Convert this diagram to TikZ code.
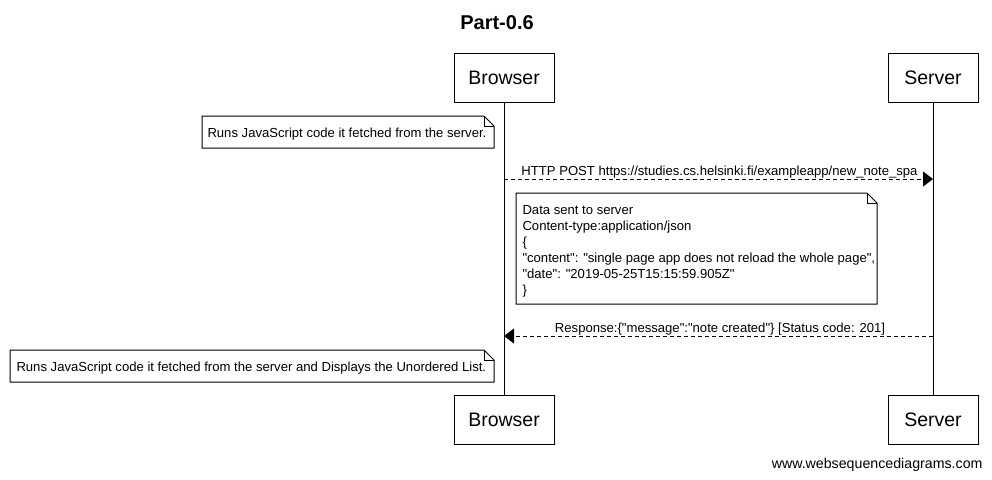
\documentclass[tikz,border=0pt]{standalone}
\usepackage{fontspec}
\setmainfont{Liberation Sans}
\usetikzlibrary{arrows.meta}
\newcommand{\qq}{\textquotedbl}
\begin{document}
\begin{tikzpicture}[x=1pt,y=-1pt,line width=1pt,
  actor/.style={draw,fill=white,minimum width=100pt,minimum height=49pt,inner sep=0pt,font=\fontsize{19.5}{22}\selectfont},
  msg/.style={dashed,dash pattern=on 4pt off 3pt,-{Triangle[length=10pt,width=15pt]}},
  lbl/.style={font=\fontsize{13.1}{16}\selectfont,inner sep=0pt,anchor=base},
  notetext/.style={font=\fontsize{13.1}{16}\selectfont,inner sep=0pt,anchor=base west,align=left}]
\useasboundingbox (0,0) rectangle (992,479);
% title
\node[font=\bfseries\fontsize{20}{24}\selectfont,anchor=base] (title) at (497,29) {Part-0.6};
% actors
\node[actor] (bt) at (504,77.5) {Browser};
\node[actor,minimum width=90pt] (st) at (933,77.5) {Server};
\node[actor] (bb) at (504,419.5) {Browser};
\node[actor,minimum width=90pt] (sb) at (933,419.5) {Server};
\draw (bt.south) -- (bb.north);
\draw (st.south) -- (sb.north);
% note 1
\draw (202,116) -- (484,116) -- (494,126) -- (494,148) -- (202,148) -- cycle;
\draw (484,116) -- (484,126) -- (494,126);
\node[notetext] (n1) at (207,137) {Runs JavaScript code it fetched from the server.};
% message 1
\coordinate (m1a) at (504,179);
\coordinate (m1b) at (933,179);
\draw[msg] (m1a) -- (m1b);
\node[lbl] (l1) at (719.5,175) {HTTP POST https://studies.cs.helsinki.fi/exampleapp/new\_note\_spa};
% note 2
\draw (516,193) -- (867,193) -- (877,203) -- (877,304) -- (516,304) -- cycle;
\draw (867,193) -- (867,203) -- (877,203);
\node[notetext] (n2a) at (522,214) {Data sent to server};
\node[notetext] (n2b) at (522,230) {Content-type:application/json};
\node[notetext] (n2c) at (522,246) {\{};
\node[notetext] (n2d) at (522,262) {\qq content\qq: \qq single page app does not reload the whole page\qq,};
\node[notetext] (n2e) at (522,278) {\qq date\qq: \qq 2019-05-25T15:15:59.905Z\qq};
\node[notetext] (n2f) at (522,294) {\}};
% message 2
\coordinate (m2a) at (933,336);
\coordinate (m2b) at (504,336);
\draw[msg] (m2a) -- (m2b);
\node[lbl] (l2) at (720,332) {Response:\{\qq message\qq:\qq note created\qq\} [Status code: 201]};
% note 3
\draw (10,350) -- (484,350) -- (494,360) -- (494,382) -- (10,382) -- cycle;
\draw (484,350) -- (484,360) -- (494,360);
\node[notetext] (n3) at (16,371) {Runs JavaScript code it fetched from the server and Displays the Unordered List.};
% footer
\node[font=\fontsize{14.2}{17}\selectfont,anchor=base east,inner sep=0pt] (foot) at (983,468) {www.websequencediagrams.com};
\end{tikzpicture}
\end{document}
